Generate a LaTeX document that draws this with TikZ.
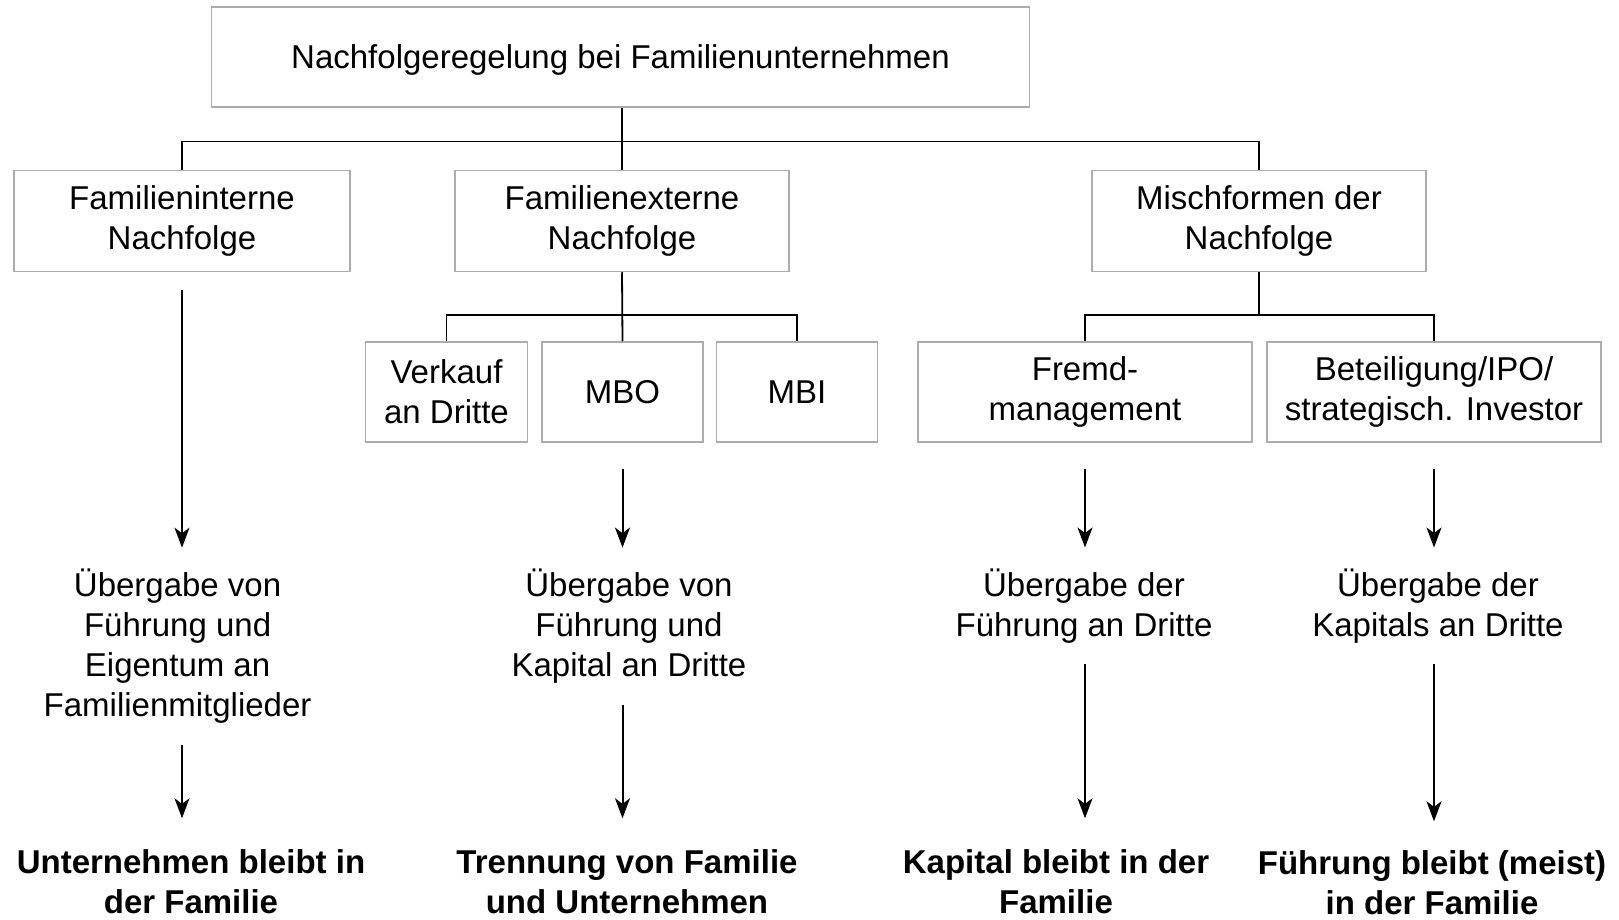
\documentclass[tikz,border=0pt]{standalone}
\usepackage{fontspec}
\setmainfont{Liberation Sans}
\usetikzlibrary{arrows.meta}

\tikzset{
  box/.style={draw=gray!65, line width=0.75pt, align=center, inner sep=0pt},
  txt/.style={align=center, inner sep=0pt},
  res/.style={align=center, inner sep=0pt, font=\bfseries\fontsize{16.5pt}{20.2pt}\selectfont},
  link/.style={line width=0.9pt},
  arr/.style 2 args={line width=1pt, -{Stealth[length=10pt,width=7.5pt,inset=2.8pt]},
    shorten <=#1, shorten >=#2},
}

\begin{document}
\begin{tikzpicture}[x=0.5pt,y=-0.5pt,font=\fontsize{16.5pt}{19.9pt}\selectfont]
\useasboundingbox (0,0) rectangle (1619,920);

% Draw the top box
  \node[box, minimum width=409pt, minimum height=50pt, text height=15pt, text depth=3.5pt] (root) at (620.5,57) {Nachfolgeregelung bei Familienunternehmen};

% Draw the three kinds of succession
  \node[box, minimum width=168pt, minimum height=50.5pt] (intern) at (182,221) {Familieninterne\\Nachfolge};
  \node[box, minimum width=167pt, minimum height=50.5pt] (extern) at (622,221) {Familienexterne\\Nachfolge};
  \node[box, minimum width=167pt, minimum height=50.5pt] (misch) at (1259,221) {Mischformen der\\Nachfolge};

% Draw the sub boxes
  \node[box, minimum width=81pt, minimum height=50pt] (verkauf) at (446.5,392) {Verkauf\\an Dritte};
  \node[box, minimum width=80.5pt, minimum height=50pt] (mbo) at (622.5,392) {MBO};
  \node[box, minimum width=80.5pt, minimum height=50pt] (mbi) at (797,392) {MBI};
  \node[box, minimum width=167pt, minimum height=50pt] (fremd) at (1085,392) {Fremd-\\management};
  \node[box, minimum width=167pt, minimum height=50pt] (invest) at (1434,392) {Beteiligung/IPO/\\strategisch. Investor};

% Draw the tree lines
  \coordinate (bus) at (622,141.5);
  \coordinate (busE) at (622,315);
  \coordinate (busM) at (1259,315);
  \draw[link] (root.south -| extern.north) -- (extern.north);
  \draw[link] (intern.north) |- (bus) -| (misch.north);
  \draw[link] (extern.south) -- (mbo.north);
  \draw[link] (verkauf.north) |- (busE) -| (mbi.north);
  \draw[link] (misch.south) -- (busM);
  \draw[link] (fremd.north) |- (busM) -| (invest.north);

% Draw the handover texts
  \node[txt] (mid1) at (177.6,646) {Übergabe von\\Führung und\\Eigentum an\\Familienmitglieder};
  \node[txt] (mid2) at (629,626) {Übergabe von\\Führung und\\Kapital an Dritte};
  \node[txt] (mid3) at (1084,606) {Übergabe der\\Führung an Dritte};
  \node[txt] (mid4) at (1438,606) {Übergabe der\\Kapitals an Dritte};

% Draw the results
  \node[res] (end1) at (191,882) {Unternehmen bleibt in\\der Familie};
  \node[res] (end2) at (627,882) {Trennung von Familie\\und Unternehmen};
  \node[res] (end3) at (1056,882) {Kapital bleibt in der\\Familie};
  \node[res] (end4) at (1432,883) {Führung bleibt (meist)\\in der Familie};

% Draw arrows
  \draw[arr={8.75pt}{10.5pt}] (intern.south) -- (intern.south |- mid1.north);
  \draw[arr={12.9pt}{10.5pt}] (mbo.south) -- (mbo.south |- mid2.north);
  \draw[arr={12.9pt}{10.5pt}] (fremd.south) -- (fremd.south |- mid3.north);
  \draw[arr={12.9pt}{10.5pt}] (invest.south) -- (invest.south |- mid4.north);

  \draw[arr={11pt}{15.5pt}] (mid1.south -| intern.south) -- (intern.south |- end1.north);
  \draw[arr={10.8pt}{15.5pt}] (mid2.south -| mbo.south) -- (mbo.south |- end2.north);
  \draw[arr={10pt}{15.5pt}] (mid3.south -| fremd.south) -- (fremd.south |- end3.north);
  \draw[arr={10pt}{14.5pt}] (mid4.south -| invest.south) -- (invest.south |- end4.north);

\end{tikzpicture}
\end{document}
